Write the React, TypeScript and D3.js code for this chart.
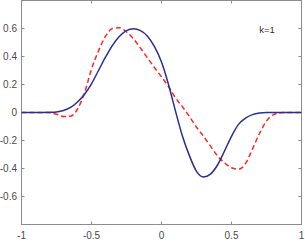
import React, { useRef, useEffect } from "react";
import * as d3 from "d3";

const xs = [
  -1, -0.95, -0.9, -0.85, -0.8, -0.75, -0.7, -0.65, -0.6, -0.55, -0.5, -0.45, -0.4, -0.35, -0.3, -0.25, -0.2,
  -0.15, -0.1, -0.05, 0, 0.05, 0.1, 0.15, 0.2, 0.25, 0.3, 0.35, 0.4, 0.45, 0.5, 0.55, 0.6, 0.65, 0.7, 0.75,
  0.8, 0.85, 0.9, 0.95, 1,
];

const solidK1 = [
  0, 0, 0, 0, 0.001, 0.004, 0.014, 0.036, 0.075, 0.13, 0.205, 0.3, 0.395, 0.48, 0.545, 0.585, 0.598,
  0.585, 0.545, 0.47, 0.36, 0.2, 0.01, -0.17, -0.31, -0.42, -0.46, -0.44, -0.375, -0.275, -0.17, -0.085,
  -0.04, -0.015, -0.004, 0, 0, 0, 0, 0, 0,
];

const dashedK1 = [
  0, 0, 0, 0, -0.002, -0.012, -0.028, -0.027, 0.025, 0.14, 0.31, 0.44, 0.545, 0.6, 0.605, 0.575, 0.526,
  0.46, 0.39, 0.32, 0.255, 0.185, 0.105, 0.04, -0.03, -0.105, -0.17, -0.24, -0.31, -0.36, -0.395, -0.405,
  -0.365, -0.26, -0.15, -0.06, -0.015, -0.002, 0, 0, 0,
];

const xTicks = [-1, -0.5, 0, 0.5, 1];
const yTicks = [-0.6, -0.4, -0.2, 0, 0.2, 0.4, 0.6];
const label = "k=1";

const W = 305;
const H = 242;

export default function App() {
  const ref = useRef<SVGSVGElement>(null);

  useEffect(() => {
    const svg = d3.select(ref.current);
    svg.selectAll("*").remove();

    const x = d3.scaleLinear().domain([-1, 1]).range([21.5, 301.5]);
    const y = d3.scaleLinear().domain([-0.8, 0.8]).range([224.5, 0.5]);
    const axisColor = "#8c8c8c";
    const textColor = "#4a4a4a";
    const font = "Liberation Sans, Arial, sans-serif";

    // box
    svg
      .append("rect")
      .attr("x", x(-1))
      .attr("y", y(0.8))
      .attr("width", x(1) - x(-1))
      .attr("height", y(-0.8) - y(0.8))
      .attr("fill", "white")
      .attr("stroke", axisColor)
      .attr("stroke-width", 1);

    const tickLen = 3;
    const g = svg.append("g");

    // x ticks bottom & top
    xTicks.forEach((t) => {
      g.append("line")
        .attr("x1", x(t)).attr("x2", x(t))
        .attr("y1", y(-0.8)).attr("y2", y(-0.8) - tickLen)
        .attr("stroke", axisColor);
      g.append("line")
        .attr("x1", x(t)).attr("x2", x(t))
        .attr("y1", y(0.8)).attr("y2", y(0.8) + tickLen)
        .attr("stroke", axisColor);
      g.append("text")
        .attr("x", x(t))
        .attr("y", 238.5)
        .attr("text-anchor", "middle")
        .attr("font-family", font)
        .attr("font-size", 10)
        .attr("fill", textColor)
        .text(String(t));
    });

    // y ticks left & right
    yTicks.forEach((t) => {
      g.append("line")
        .attr("x1", x(-1)).attr("x2", x(-1) + tickLen)
        .attr("y1", y(t)).attr("y2", y(t))
        .attr("stroke", axisColor);
      g.append("line")
        .attr("x1", x(1)).attr("x2", x(1) - tickLen)
        .attr("y1", y(t)).attr("y2", y(t))
        .attr("stroke", axisColor);
      g.append("text")
        .attr("x", 17)
        .attr("y", y(t) + 3.5)
        .attr("text-anchor", "end")
        .attr("font-family", font)
        .attr("font-size", 10)
        .attr("fill", textColor)
        .text(String(t));
    });

    const line = (vals: number[]) =>
      d3
        .line<number>()
        .x((_, i) => x(xs[i]))
        .y((d) => y(d))
        .curve(d3.curveMonotoneX)(vals);

    svg
      .append("path")
      .attr("d", line(dashedK1))
      .attr("fill", "none")
      .attr("stroke", "#ff2626")
      .attr("stroke-width", 1.5)
      .attr("stroke-dasharray", "5,3");

    svg
      .append("path")
      .attr("d", line(solidK1))
      .attr("fill", "none")
      .attr("stroke", "#2a2c98")
      .attr("stroke-width", 1.5);

    svg
      .append("text")
      .attr("x", 267)
      .attr("y", 33)
      .attr("text-anchor", "middle")
      .attr("font-family", font)
      .attr("font-size", 9.5)
      .attr("fill", "#333")
      .text(label);
  }, []);

  return (
    <svg
      ref={ref}
      width={W}
      height={H}
      style={{ position: "absolute", left: 0, top: 0, background: "white" }}
    />
  );
}
